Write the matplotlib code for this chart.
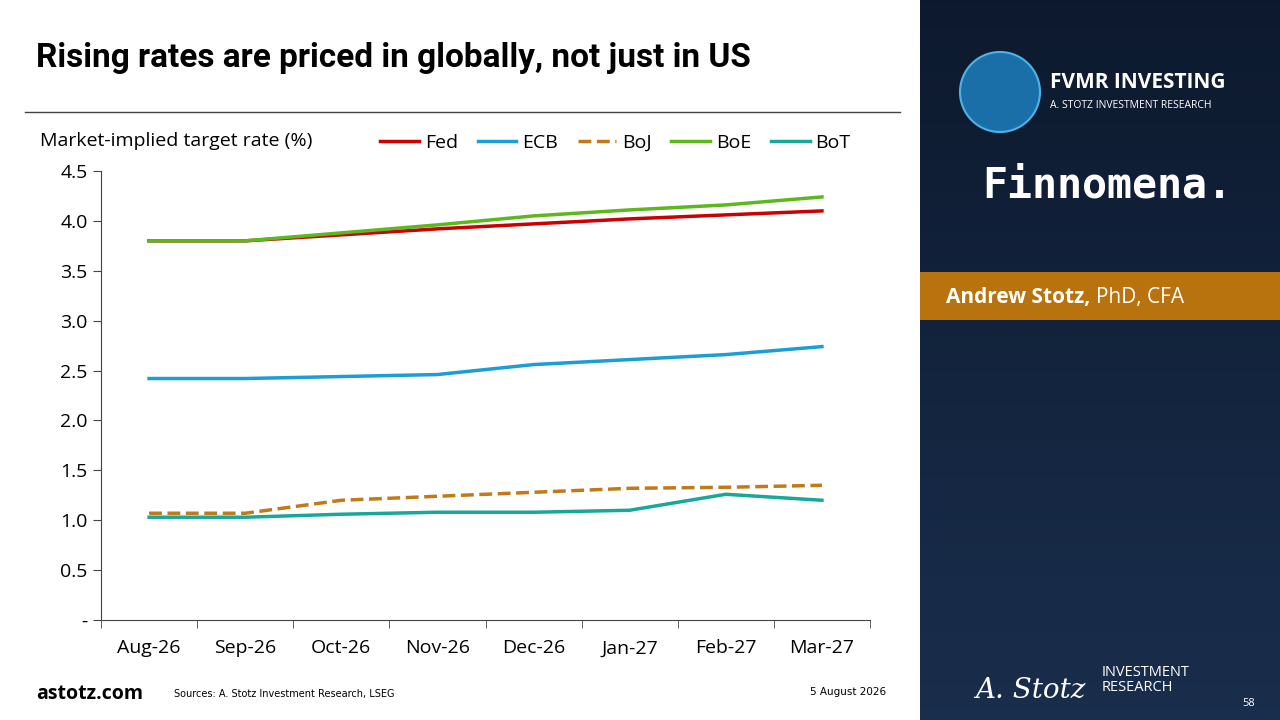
import matplotlib
matplotlib.use("Agg")
import matplotlib.pyplot as plt
import numpy as np
from matplotlib.patches import Rectangle, Ellipse

months = ["Aug-26", "Sep-26", "Oct-26", "Nov-26", "Dec-26", "Jan-27", "Feb-27", "Mar-27"]
fed = [3.80, 3.80, 3.86, 3.92, 3.97, 4.02, 4.06, 4.10]
ecb = [2.42, 2.42, 2.44, 2.46, 2.56, 2.61, 2.66, 2.74]
boj = [1.07, 1.07, 1.20, 1.24, 1.28, 1.32, 1.33, 1.35]
boe = [3.80, 3.80, 3.88, 3.96, 4.05, 4.11, 4.16, 4.24]
bot = [1.03, 1.03, 1.06, 1.08, 1.08, 1.10, 1.26, 1.20]

plt.rcParams['font.family'] = ['Open Sans', 'DejaVu Sans']
fig = plt.figure(figsize=(12.8, 7.2), dpi=100)
W, H = 1280, 720

def fx(x): return x / W
def fy(y): return 1 - y / H

# right panel
grad = np.linspace(0, 1, 256).reshape(-1, 1)
pax = fig.add_axes([fx(920), 0, fx(360), 1])
pax.imshow(np.dstack([0.05 + 0.05*grad, 0.10 + 0.08*grad, 0.18 + 0.12*grad]).repeat(2, axis=1),
           aspect='auto', extent=[0, 1, 0, 1])
pax.set_xlim(0, 1); pax.set_ylim(0, 1); pax.axis('off')

fig.patches.append(Ellipse((fx(1000), fy(92)), 80/W, 80/H, transform=fig.transFigure,
                           facecolor='#1b6fa8', edgecolor='#4fb3e8', lw=1.5))
fig.text(fx(1050), fy(82), "FVMR INVESTING", color='white', fontsize=15, fontweight='bold', va='center')
fig.text(fx(1050), fy(106), "A. STOTZ INVESTMENT RESEARCH", color='white', fontsize=7.5, va='center')
fig.text(fx(982), fy(186), "Finnomena.", color='white', fontsize=30, va='center', family='DejaVu Sans Mono', fontweight='bold')
fig.patches.append(Rectangle((fx(920), fy(320)), fx(360), 48/H, transform=fig.transFigure,
                             facecolor='#b8730f', edgecolor='none'))
fig.text(fx(946), fy(297), "Andrew Stotz,", color='white', fontsize=15, fontweight='bold', va='center')
fig.text(fx(1096), fy(297), "PhD, CFA", color='white', fontsize=15, va='center')
fig.text(fx(975), fy(690), "A. Stotz", color='white', fontsize=20, style='italic', va='center', family='DejaVu Serif')
fig.text(fx(1102), fy(680), "INVESTMENT\nRESEARCH", color='white', fontsize=10.5, va='center', linespacing=1.0)
fig.text(fx(1242), fy(704), "58", color='white', fontsize=8, va='center')

# title and footer
fig.text(fx(36), fy(58), "Rising rates are priced in globally, not just in US", fontsize=24,
         fontweight='bold', va='center', family=['Roboto', 'DejaVu Sans'])
fig.add_artist(plt.Line2D([fx(25), fx(900)], [fy(112), fy(112)], color='#444444', lw=1))
fig.text(fx(36), fy(694), "astotz.com", fontsize=14, fontweight='bold', va='center')
fig.text(fx(174), fy(694), "Sources: A. Stotz Investment Research, LSEG", fontsize=7, va='center', family='DejaVu Sans')
fig.text(fx(810), fy(692), "5 August 2026", fontsize=7.5, va='center', family='DejaVu Sans')
fig.text(fx(40), fy(141), "Market-implied target rate (%)", fontsize=14, va='center')

ax = fig.add_axes([fx(101), fy(620), fx(870-101), (620-171)/H])
x = np.arange(len(months))
ax.plot(x, fed, color='#cc0000', lw=2.5, label='Fed')
ax.plot(x, ecb, color='#1a9ed4', lw=2.5, label='ECB')
ax.plot(x, boj, color='#c07a1a', lw=2.5, ls='--', label='BoJ')
ax.plot(x, boe, color='#5cb81c', lw=2.5, label='BoE')
ax.plot(x, bot, color='#17a89a', lw=2.5, label='BoT')
ax.set_xlim(-0.5, len(months) - 0.5)
ax.set_ylim(0, 4.5)
ax.set_yticks(np.arange(0, 4.51, 0.5))
ax.set_yticklabels(['-'] + ['%.1f' % v for v in np.arange(0.5, 4.51, 0.5)])
ax.set_xticks(x)
ax.set_xticklabels(months)
ax.set_xticks(np.arange(-0.5, len(months), 1), minor=True)
ax.tick_params(axis='x', which='major', length=0, pad=14, labelsize=14)
ax.tick_params(axis='x', which='minor', length=6, color='#444444')
ax.tick_params(axis='y', length=6, labelsize=14, color='#444444')
for s in ['top', 'right']:
    ax.spines[s].set_visible(False)
ax.spines['left'].set_color('#444444')
ax.spines['bottom'].set_color('#444444')
ax.legend(loc='lower right', bbox_to_anchor=(1.0, 1.0), ncol=5, frameon=False, fontsize=14,
          handlelength=2.0, columnspacing=1.0, handletextpad=0.3, borderaxespad=0.6)

fig.savefig("out.png", dpi=100)
